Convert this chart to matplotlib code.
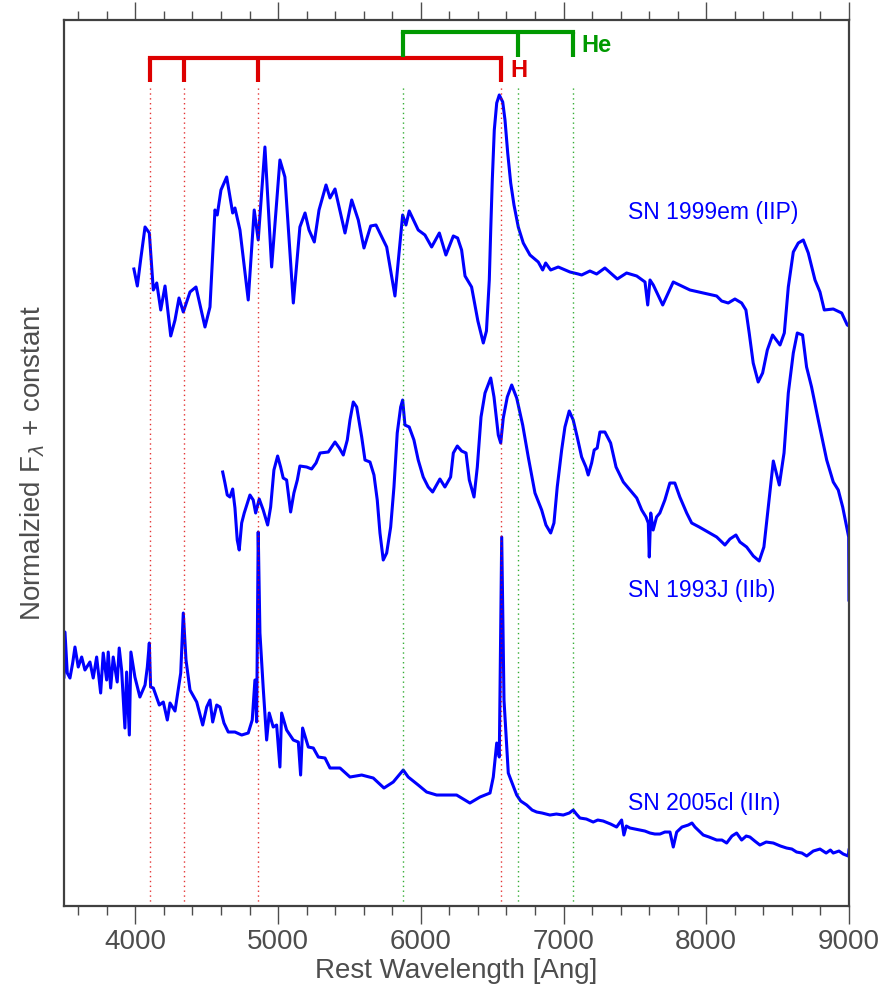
import numpy as np
import matplotlib
matplotlib.use('Agg')
import matplotlib.pyplot as plt

plt.rcParams['font.family'] = ['Liberation Sans', 'DejaVu Sans']

# SN 1999em (IIP), normalized flux + offset
wl_99em = [3990, 4014, 4037, 4068, 4098, 4126, 4150, 4178, 4208, 4248, 4278, 4306, 4336, 4383,
           4425, 4488, 4523, 4558, 4574, 4600, 4640, 4682, 4698, 4733, 4791, 4833, 4861, 4908,
           4955, 5013, 5048, 5107, 5153, 5189, 5217, 5254, 5287, 5336, 5364, 5399, 5469, 5516,
           5562, 5602, 5649, 5686, 5761, 5819, 5873, 5896, 5919, 5982, 6029, 6076, 6130, 6176,
           6228, 6258, 6286, 6310, 6356, 6400, 6438, 6460, 6480, 6490, 6501, 6515, 6532, 6550,
           6574, 6590, 6609, 6630, 6653, 6683, 6718, 6765, 6823, 6854, 6875, 6910, 6963, 7045,
           7103, 7127, 7185, 7232, 7290, 7377, 7442, 7513, 7571, 7590, 7606, 7629, 7695, 7769,
           7886, 7979, 8073, 8108, 8154, 8201, 8248, 8278, 8301, 8329, 8364, 8395, 8428, 8465,
           8517, 8547, 8575, 8610, 8645, 8680, 8715, 8762, 8797, 8827, 8890, 8949, 8988, 9000]
fl_99em = [6.37, 6.20, 6.46, 6.79, 6.73, 6.16, 6.23, 5.96, 6.20, 5.70, 5.86, 6.08, 5.94, 6.14,
           6.19, 5.79, 5.99, 6.96, 6.91, 7.16, 7.29, 6.93, 6.98, 6.76, 6.06, 6.96, 6.66, 7.59,
           6.39, 7.46, 7.29, 6.03, 6.79, 6.93, 6.76, 6.64, 6.96, 7.21, 7.08, 7.17, 6.73, 7.06,
           6.86, 6.58, 6.80, 6.81, 6.59, 6.10, 6.91, 6.81, 6.95, 6.76, 6.71, 6.59, 6.73, 6.51,
           6.70, 6.68, 6.56, 6.30, 6.19, 5.85, 5.63, 5.75, 6.26, 6.76, 7.26, 7.76, 8.03, 8.11,
           8.04, 7.86, 7.53, 7.23, 7.01, 6.79, 6.63, 6.51, 6.44, 6.36, 6.43, 6.36, 6.39, 6.34,
           6.32, 6.31, 6.35, 6.32, 6.38, 6.27, 6.33, 6.30, 6.24, 6.01, 6.26, 6.21, 6.01, 6.24,
           6.16, 6.13, 6.10, 6.05, 6.03, 6.07, 6.03, 5.96, 5.73, 5.43, 5.24, 5.33, 5.56, 5.71,
           5.61, 5.73, 6.19, 6.54, 6.63, 6.66, 6.53, 6.26, 6.14, 5.96, 5.97, 5.93, 5.81, 5.80]

# SN 1993J (IIb)
wl_93j = [4612, 4628, 4644, 4663, 4682, 4698, 4714, 4728, 4745, 4763, 4803, 4826, 4843, 4868,
          4896, 4927, 4948, 4971, 4997, 5018, 5036, 5060, 5088, 5111, 5135, 5153, 5200, 5235,
          5266, 5294, 5352, 5399, 5429, 5457, 5485, 5504, 5527, 5551, 5586, 5609, 5644, 5672,
          5695, 5714, 5737, 5761, 5789, 5812, 5835, 5859, 5873, 5889, 5919, 5952, 5982, 6017,
          6052, 6083, 6134, 6169, 6209, 6228, 6256, 6286, 6317, 6340, 6373, 6396, 6422, 6450,
          6490, 6513, 6543, 6560, 6578, 6606, 6637, 6672, 6714, 6753, 6800, 6847, 6877, 6910,
          6933, 6956, 6987, 7010, 7040, 7068, 7096, 7127, 7157, 7173, 7197, 7215, 7236, 7255,
          7290, 7330, 7368, 7419, 7466, 7513, 7548, 7578, 7594, 7601, 7611, 7628, 7652, 7675,
          7710, 7745, 7780, 7815, 7863, 7898, 7951, 8073, 8131, 8166, 8208, 8236, 8283, 8330,
          8371, 8404, 8435, 8470, 8512, 8545, 8575, 8610, 8638, 8675, 8703, 8738, 8785, 8844,
          8890, 8925, 8956, 8984, 8998, 9000]
fl_93j = [4.34, 4.23, 4.11, 4.09, 4.17, 3.98, 3.66, 3.56, 3.83, 3.93, 4.11, 4.06, 3.93, 4.07,
          3.96, 3.81, 3.99, 4.36, 4.50, 4.39, 4.28, 4.26, 3.94, 4.13, 4.26, 4.40, 4.39, 4.37,
          4.43, 4.53, 4.54, 4.64, 4.58, 4.51, 4.66, 4.86, 5.04, 4.99, 4.69, 4.46, 4.44, 4.31,
          4.06, 3.73, 3.46, 3.53, 3.79, 4.19, 4.73, 4.99, 5.06, 4.81, 4.79, 4.66, 4.46, 4.29,
          4.19, 4.14, 4.27, 4.19, 4.29, 4.53, 4.60, 4.55, 4.53, 4.26, 4.09, 4.39, 4.89, 5.13,
          5.28, 5.09, 4.71, 4.63, 4.88, 5.09, 5.21, 5.08, 4.81, 4.49, 4.13, 3.96, 3.81, 3.73,
          3.83, 4.19, 4.56, 4.79, 4.95, 4.86, 4.69, 4.49, 4.39, 4.31, 4.43, 4.56, 4.58, 4.74,
          4.74, 4.63, 4.39, 4.24, 4.16, 4.08, 3.96, 3.89, 3.83, 3.49, 3.93, 3.76, 3.89, 3.93,
          4.06, 4.23, 4.23, 4.09, 3.93, 3.83, 3.79, 3.69, 3.61, 3.67, 3.71, 3.64, 3.59, 3.50,
          3.45, 3.59, 3.99, 4.45, 4.21, 4.53, 5.13, 5.53, 5.73, 5.71, 5.39, 5.19, 4.86, 4.46,
          4.24, 4.16, 3.99, 3.79, 3.69, 3.06]

# SN 2005cl (IIn)
wl_05cl = [3500, 3507, 3523, 3542, 3561, 3577, 3600, 3624, 3647, 3682, 3705, 3729, 3757, 3775,
           3799, 3810, 3827, 3845, 3873, 3887, 3904, 3927, 3939, 3958, 3969, 3997, 4032, 4068,
           4084, 4098, 4107, 4126, 4168, 4196, 4224, 4243, 4278, 4318, 4336, 4355, 4383, 4430,
           4472, 4500, 4523, 4542, 4570, 4593, 4621, 4651, 4698, 4745, 4791, 4819, 4838, 4850,
           4861, 4873, 4896, 4920, 4938, 4966, 4990, 5013, 5025, 5060, 5107, 5142, 5158, 5172,
           5212, 5247, 5282, 5329, 5364, 5434, 5504, 5586, 5667, 5742, 5807, 5877, 5912, 5982,
           6041, 6111, 6181, 6251, 6344, 6415, 6485, 6508, 6532, 6550, 6567, 6583, 6613, 6672,
           6700, 6742, 6780, 6812, 6850, 6905, 6950, 6998, 7040, 7068, 7090, 7115, 7160, 7208,
           7240, 7278, 7330, 7372, 7407, 7423, 7440, 7466, 7500, 7536, 7570, 7606, 7640, 7676,
           7710, 7746, 7769, 7793, 7830, 7874, 7900, 7921, 7950, 7979, 8020, 8073, 8110, 8143,
           8180, 8213, 8248, 8280, 8306, 8340, 8376, 8420, 8470, 8520, 8563, 8600, 8633, 8670,
           8704, 8750, 8797, 8840, 8870, 8890, 8930, 8960, 8995, 9000]
fl_05cl = [2.29, 2.74, 2.33, 2.28, 2.43, 2.59, 2.39, 2.49, 2.36, 2.44, 2.28, 2.49, 2.13, 2.53,
           2.26, 2.54, 2.18, 2.49, 2.24, 2.58, 2.36, 1.78, 2.34, 1.71, 2.54, 2.29, 2.09, 2.21,
           2.39, 2.63, 2.19, 2.18, 2.01, 2.04, 1.86, 2.03, 1.95, 2.33, 2.93, 2.46, 2.16, 2.04,
           1.81, 1.99, 2.06, 1.84, 2.01, 1.99, 1.83, 1.74, 1.74, 1.71, 1.73, 1.86, 2.26, 1.84,
           3.74, 2.73, 2.18, 1.66, 1.93, 1.79, 1.81, 1.39, 1.93, 1.76, 1.66, 1.64, 1.31, 1.78,
           1.59, 1.58, 1.49, 1.48, 1.38, 1.38, 1.29, 1.31, 1.28, 1.18, 1.24, 1.36, 1.29, 1.21,
           1.14, 1.11, 1.11, 1.11, 1.03, 1.09, 1.13, 1.29, 1.63, 1.49, 3.69, 2.06, 1.33, 1.11,
           1.05, 1.01, 0.96, 0.94, 0.93, 0.91, 0.92, 0.91, 0.93, 0.96, 0.92, 0.88, 0.87, 0.84,
           0.86, 0.85, 0.82, 0.79, 0.86, 0.71, 0.80, 0.78, 0.77, 0.76, 0.75, 0.73, 0.72, 0.72,
           0.74, 0.74, 0.59, 0.74, 0.79, 0.81, 0.83, 0.79, 0.75, 0.71, 0.69, 0.66, 0.66, 0.63,
           0.70, 0.73, 0.66, 0.70, 0.69, 0.65, 0.61, 0.64, 0.63, 0.60, 0.58, 0.57, 0.54, 0.53,
           0.50, 0.55, 0.57, 0.53, 0.56, 0.53, 0.55, 0.52, 0.50, 0.56]

labels = ['SN 1999em (IIP)', 'SN 1993J (IIb)', 'SN 2005cl (IIn)']
label_y = [6.93, 3.16, 1.03]

h_lines = [4102, 4340, 4861, 6563]
he_lines = [5876, 6678, 7065]

fig = plt.figure(figsize=(8.86, 9.94), dpi=100)
ax = fig.add_axes([0.0722, 0.0885, 0.886, 0.8914])

blue = '#0000ff'
for wl, fl in [(wl_99em, fl_99em), (wl_93j, fl_93j), (wl_05cl, fl_05cl)]:
    ax.plot(wl, fl, color=blue, lw=2.2, solid_joinstyle='round')

for lab, yy in zip(labels, label_y):
    ax.text(7450, yy, lab, color=blue, fontsize=16.5, va='center', ha='left')

# line identifications
red = '#dd0000'
green = '#009900'
for w in h_lines:
    ax.plot([w, w], [0, 8.19], color=red, lw=1, ls=(0, (1, 2.5)), alpha=0.8)
    ax.plot([w, w], [8.24, 8.48], color=red, lw=3, solid_capstyle='butt')
ax.plot([h_lines[0], h_lines[-1]], [8.48, 8.48], color=red, lw=3, solid_capstyle='projecting')
for w in he_lines:
    ax.plot([w, w], [0, 8.19], color=green, lw=1, ls=(0, (1, 2.5)), alpha=0.8)
    ax.plot([w, w], [8.49, 8.74], color=green, lw=3, solid_capstyle='butt')
ax.plot([he_lines[0], he_lines[-1]], [8.74, 8.74], color=green, lw=3, solid_capstyle='projecting')
ax.text(6625, 8.35, 'H', color=red, fontsize=17, fontweight='bold', va='center')
ax.text(7122, 8.60, 'He', color=green, fontsize=17, fontweight='bold', va='center')

ax.set_xlim(3500, 9000)
ax.set_ylim(0, 8.86)

gray = '#4d4d4d'
for s in ax.spines.values():
    s.set_color('#404040')
    s.set_linewidth(1.6)
ax.set_xticks(np.arange(4000, 9001, 1000))
ax.set_xticks(np.arange(3600, 9001, 200), minor=True)
ax.tick_params(axis='x', which='both', direction='out', top=True, bottom=True,
               colors=gray, labelsize=20, width=1)
ax.tick_params(axis='x', which='major', length=13)
ax.tick_params(axis='x', which='minor', length=6.5)
ax.set_yticks([])
ax.set_xlabel('Rest Wavelength [Ang]', fontsize=20, color=gray, labelpad=2)
ax.set_ylabel(r'Normalzied F$_\lambda$ + constant', fontsize=20, color=gray, labelpad=12)

fig.savefig('out.png', dpi=100)
